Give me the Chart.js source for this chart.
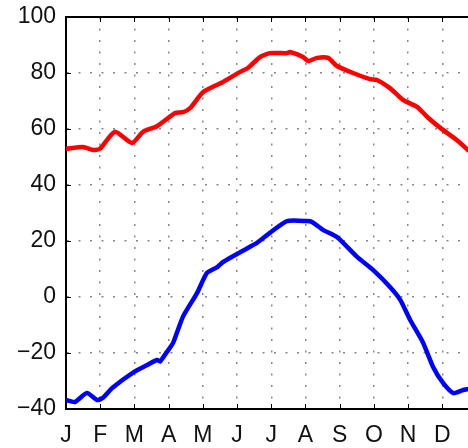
<!DOCTYPE html>
<html>
<head>
<meta charset="utf-8">
<script src="https://cdn.jsdelivr.net/npm/chart.js@4.4.1/dist/chart.umd.min.js"></script>
<style>
  html, body { margin: 0; padding: 0; background: #fff; overflow: hidden; }
  canvas { display: block; }
</style>
</head>
<body>
<canvas id="temps" width="468" height="448"></canvas>
<script>
// Month initials at the start of each month (x = months since 1 Jan)
const monthLabels = ["J", "F", "M", "A", "M", "J", "J", "A", "S", "O", "N", "D"];

// Upper (red) curve
const highX = [0, 0.50, 0.79, 0.99, 1.43, 1.93, 2.25, 2.66, 3.19, 3.42, 3.63, 4.01, 4.59, 5.09, 5.32, 5.67,
               5.96, 6.46, 6.55, 6.93, 7.08, 7.34, 7.66, 7.92, 8.39, 8.89, 9.09, 9.47, 9.85, 10.26, 10.56,
               10.94, 11.43, 11.75];
const highY = [52.9, 53.6, 52.5, 52.9, 59, 55, 59, 61, 65.7, 66, 67.5, 73.2, 76.8, 80.4, 81.8, 85.7,
               87.1, 87.1, 87.5, 85.7, 84.3, 85.4, 85.4, 82.5, 80, 77.8, 77.5, 74.6, 70.4, 67.9, 64.3,
               60.4, 56, 52.5];

// Lower (blue) curve
const lowX = [0, 0.26, 0.61, 0.91, 1.08, 1.35, 1.96, 2.37, 2.66, 2.75, 2.95, 3.13, 3.42, 3.83, 4.12, 4.42,
              4.59, 5.09, 5.58, 5.96, 6.46, 7.05, 7.19, 7.51, 7.92, 8.51, 8.98, 9.47, 9.77, 10.06, 10.44,
              10.73, 11.02, 11.32, 11.61, 11.75];
const lowY = [-36.8, -37.5, -34.3, -36.8, -36, -32.5, -27, -24.3, -22.5, -23, -19.6, -16.4, -7, 1.4, 8.6, 10.7,
              12.5, 16, 19.3, 22.9, 27.1, 27.1, 26.8, 24, 21.4, 14.3, 9.6, 3.6, -1, -8.2, -16.4,
              -25, -30.7, -34.3, -33.2, -32.9];

const toPoints = (xs, ys) => xs.map((x, i) => ({ x: x, y: ys[i] }));

// top frame line plus short inward ticks, matlab style
const frame = {
  id: "frame",
  afterDraw(chart) {
    const { ctx, chartArea: a, scales } = chart;
    ctx.save();
    ctx.strokeStyle = "#000";
    ctx.lineWidth = 2;
    ctx.beginPath();
    ctx.moveTo(a.left - 1, a.top);
    ctx.lineTo(a.right, a.top);
    ctx.stroke();
    ctx.lineWidth = 1;
    ctx.beginPath();
    scales.y.ticks.forEach(t => {
      const py = Math.round(scales.y.getPixelForValue(t.value)) + 0.5;
      ctx.moveTo(a.left, py);
      ctx.lineTo(a.left + 5, py);
    });
    scales.x.ticks.forEach(t => {
      const px = Math.round(scales.x.getPixelForValue(t.value)) + 0.5;
      ctx.moveTo(px, a.bottom);
      ctx.lineTo(px, a.bottom - 5);
      ctx.moveTo(px, a.top);
      ctx.lineTo(px, a.top + 5);
    });
    ctx.stroke();
    ctx.restore();
  }
};

const font = { family: "'Liberation Sans', Arial, sans-serif", size: 23 };
const dots = { color: "#888", lineWidth: 1.5, drawTicks: false };

new Chart(document.getElementById("temps"), {
  type: "line",
  data: {
    datasets: [
      { data: toPoints(highX, highY), borderColor: "#ff0000", borderWidth: 4.5, pointRadius: 0,
        borderJoinStyle: "round", borderCapStyle: "round", tension: 0.2 },
      { data: toPoints(lowX, lowY), borderColor: "#0000ff", borderWidth: 4.5, pointRadius: 0,
        borderJoinStyle: "round", borderCapStyle: "round", tension: 0.2 },
    ],
  },
  options: {
    responsive: false,
    animation: false,
    devicePixelRatio: 1,
    layout: { padding: { top: 17, right: 0, left: 0, bottom: 0 } },
    plugins: { legend: { display: false }, tooltip: { enabled: false } },
    scales: {
      x: {
        type: "linear", min: 0, max: 11.75,
        afterFit: s => { s.height = 39; s.paddingLeft = 0; s.paddingRight = 0; },
        ticks: { stepSize: 1, padding: 13, color: "#111", font: font, maxRotation: 0,
                 autoSkip: false, includeBounds: false,
                 callback: v => monthLabels[v] || "" },
        grid: dots,
        border: { display: true, color: "#000", width: 2, dash: [2, 9.5] },
      },
      y: {
        min: -40, max: 100,
        afterFit: s => { s.width = 66; s.paddingTop = 0; s.paddingBottom = 0; },
        ticks: { stepSize: 20, padding: 10, color: "#111", font: font,
                 callback: v => (v < 0 ? "\u2212" + (-v) : String(v)) },
        grid: dots,
        border: { display: true, color: "#000", width: 2, dash: [2, 9.5] },
      },
    },
  },
  plugins: [frame],
});
</script>
</body>
</html>
